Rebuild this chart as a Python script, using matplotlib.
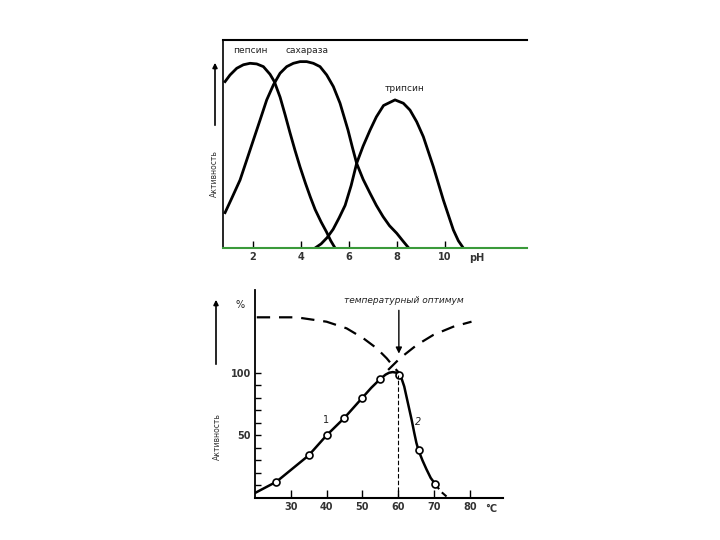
import numpy as np
import matplotlib.pyplot as plt

# --- top panel: activity vs pH ---
pepsin_ph = [0.846, 1.054, 1.332, 1.610, 1.888, 2.165, 2.443, 2.721, 2.900, 3.140, 3.350,
             3.550, 3.760, 3.970, 4.200, 4.400, 4.600, 4.850, 5.070, 5.250, 5.430]
pepsin_act = [0.800, 0.832, 0.864, 0.881, 0.888, 0.885, 0.872, 0.835, 0.800, 0.725, 0.640,
              0.555, 0.470, 0.390, 0.310, 0.245, 0.185, 0.125, 0.078, 0.035, 0.0]

sucrase_ph = [0.846, 1.124, 1.471, 1.749, 2.026, 2.304, 2.582, 2.860, 3.137, 3.415, 3.693,
              3.971, 4.249, 4.526, 4.804, 5.082, 5.360, 5.638, 5.970, 6.150, 6.330, 6.600,
              6.890, 7.150, 7.430, 7.700, 8.000, 8.250, 8.500]
sucrase_act = [0.170, 0.239, 0.327, 0.423, 0.519, 0.615, 0.712, 0.784, 0.840, 0.872, 0.888,
               0.896, 0.896, 0.888, 0.872, 0.832, 0.776, 0.696, 0.567, 0.485, 0.407, 0.330,
               0.263, 0.205, 0.151, 0.107, 0.071, 0.035, 0.0]

trypsin_ph = [4.600, 4.850, 5.100, 5.350, 5.600, 5.850, 6.100, 6.330, 6.600, 6.890, 7.150,
              7.450, 7.929, 8.276, 8.554, 8.832, 9.110, 9.318, 9.526, 9.735, 9.943, 10.151,
              10.360, 10.568, 10.776]
trypsin_act = [0.0, 0.020, 0.050, 0.090, 0.145, 0.205, 0.300, 0.407, 0.490, 0.567, 0.630,
               0.685, 0.712, 0.696, 0.663, 0.607, 0.535, 0.463, 0.391, 0.311, 0.231, 0.159,
               0.087, 0.035, 0.0]

ph_ticks = [2, 4, 6, 8, 10]

# --- bottom panel: activity vs temperature ---
meas_t = [26, 35, 40, 45, 50, 55, 60.3, 65.7, 70.4]
meas_a = [13, 34, 50, 64, 80, 95, 98, 38, 11]

curve_t = [20, 26, 35, 40, 45, 50, 52.5, 55, 56.5, 57.5, 58.5, 59.5, 60.3, 61.0, 61.7, 62.4,
           63.1, 63.8, 64.5, 65.1, 65.7, 66.8, 67.9, 69.1, 70.4]
curve_a = [4, 13, 34, 50, 64, 80, 88, 95, 98.5, 100, 100.5, 100, 98, 95, 89, 80,
           71, 62, 52, 44, 38, 30, 23, 16, 11]

tail_t = [70.4, 72, 74]
tail_a = [11, 5, 0]

rate_t = [20.5, 31.6, 40, 45.6, 50.3, 54, 56.8, 59.1, 60.2]
rate_a = [144.2, 144.2, 140.7, 135.4, 127.4, 119.5, 111.5, 103.5, 100]

denat_t = [57.2, 60.5, 65.2, 69.8, 75.4, 80.5]
denat_a = [102.2, 111.5, 122.1, 130.1, 136.7, 140.7]

t_ticks = [30, 40, 50, 60, 70, 80]

fig = plt.figure(figsize=(7.2, 5.4), dpi=100)
W, H = 720, 540

def box(l, t, r, b):
    return [l / W, 1 - b / H, (r - l) / W, (b - t) / H]

# top
ax1 = fig.add_axes(box(223, 40, 527, 248))
ax1.plot(pepsin_ph, pepsin_act, color='black', lw=2)
ax1.plot(sucrase_ph, sucrase_act, color='black', lw=2)
ax1.plot(trypsin_ph, trypsin_act, color='black', lw=2)
ax1.set_xlim(0.76, 13.43)
ax1.set_ylim(0, 1)
ax1.set_xticks(ph_ticks)
ax1.set_xticklabels([str(v) for v in ph_ticks], fontsize=7, fontweight='bold', color='#333333')
ax1.tick_params(axis='x', direction='in', length=5, width=1, pad=3)
ax1.set_yticks([])
ax1.spines['right'].set_visible(False)
ax1.spines['top'].set_linewidth(1.5)
ax1.spines['left'].set_linewidth(1.2)
ax1.spines['bottom'].set_color('#3a9a3a')
ax1.spines['bottom'].set_linewidth(1.5)
ax1.text(1.89, 0.93, 'пепсин', fontsize=6.5, ha='center', va='bottom', color='#222222')
ax1.text(4.26, 0.93, 'сахараза', fontsize=6.5, ha='center', va='bottom', color='#222222')
ax1.text(8.35, 0.745, 'трипсин', fontsize=6.5, ha='center', va='bottom', color='#222222')
ax1.text(11.35, -0.048, 'pH', fontsize=7, fontweight='bold', ha='center', va='center', color='#333333')

fig.text(214 / W, 1 - 174 / H, 'Активность', rotation=90, fontsize=5.5,
         ha='center', va='center', color='#333333')
ax1.annotate('', xy=(215, H - 60), xytext=(215, H - 128),
             xycoords='figure pixels', textcoords='figure pixels',
             arrowprops=dict(arrowstyle='-|>', color='black', lw=1.2, mutation_scale=7))

# bottom
ax2 = fig.add_axes(box(255, 290, 503, 498))
ax2.plot(curve_t, curve_a, color='black', lw=1.8)
ax2.plot(tail_t, tail_a, color='black', lw=1.5, linestyle=(0, (3, 2)))
ax2.plot(meas_t, meas_a, linestyle='none', marker='o', markersize=5,
         markerfacecolor='white', markeredgecolor='black', markeredgewidth=1.2)
ax2.plot(rate_t, rate_a, color='black', lw=1.6, linestyle=(0, (6, 4)))
ax2.plot(denat_t, denat_a, color='black', lw=1.6, linestyle=(0, (6, 4)))
ax2.plot([60, 60], [0, 98], color='black', lw=0.8, linestyle=(0, (4, 2)))
ax2.annotate('', xy=(60.2, 113), xytext=(60.2, 152),
             arrowprops=dict(arrowstyle='-|>', color='black', lw=1, mutation_scale=9))
ax2.text(61.5, 154, 'температурный оптимум', fontsize=6.5, style='italic',
         ha='center', va='bottom', color='#222222')
ax2.text(39.8, 62, '1', fontsize=7, ha='center', va='center', color='#222222')
ax2.text(65.5, 61, '2', fontsize=7, style='italic', ha='center', va='center', color='#222222')
ax2.text(15.8, 154, '%', fontsize=7, ha='center', va='center', color='#222222', clip_on=False)
ax2.text(86, -9, '°C', fontsize=7, fontweight='bold', ha='center', va='center', color='#333333',
         clip_on=False)

ax2.set_xlim(20, 89.3)
ax2.set_ylim(0, 166)
ax2.set_xticks(t_ticks)
ax2.set_xticklabels([str(v) for v in t_ticks], fontsize=7, fontweight='bold', color='#333333')
ax2.set_yticks([50, 100])
ax2.set_yticklabels(['50', '100'], fontsize=7, fontweight='bold', color='#333333')
ax2.set_yticks(np.arange(10, 100, 10), minor=True)
ax2.tick_params(axis='x', direction='in', length=6, width=1, pad=3)
ax2.tick_params(axis='y', which='both', direction='in', length=4, width=1, pad=3)
ax2.spines['right'].set_visible(False)
ax2.spines['top'].set_visible(False)
ax2.spines['left'].set_linewidth(1.3)
ax2.spines['bottom'].set_linewidth(1.5)

fig.text(217 / W, 1 - 437 / H, 'Активность', rotation=90, fontsize=5.5,
         ha='center', va='center', color='#333333')
ax2.annotate('', xy=(216, H - 297), xytext=(216, H - 367),
             xycoords='figure pixels', textcoords='figure pixels',
             arrowprops=dict(arrowstyle='-|>', color='black', lw=1.2, mutation_scale=7))

fig.savefig('out.png', dpi=100)
